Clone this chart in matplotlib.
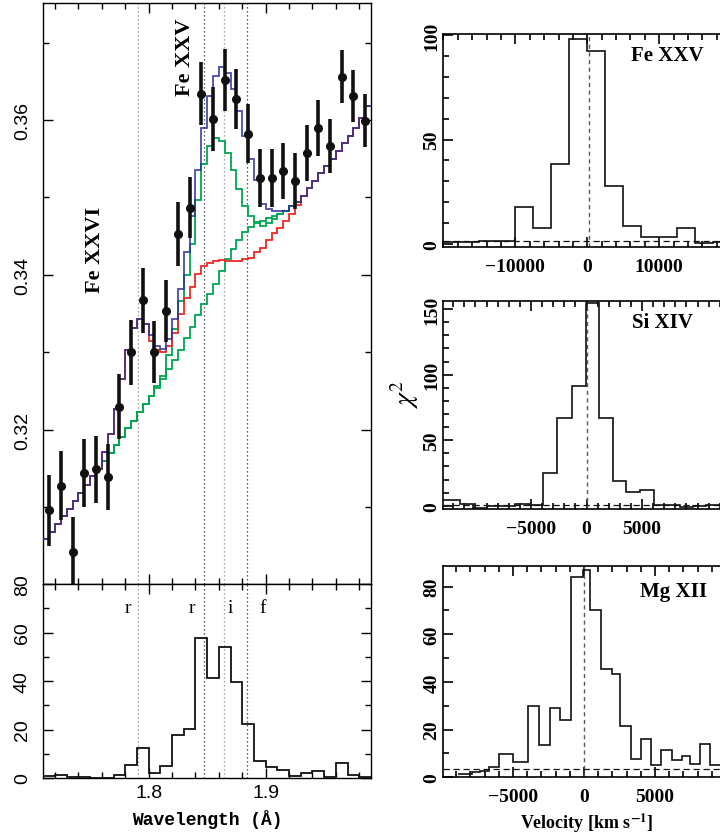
import numpy as np
import matplotlib
matplotlib.use("Agg")
import matplotlib.pyplot as plt
from matplotlib.ticker import MultipleLocator

plt.rcParams['mathtext.fontset'] = 'stix'

W, H = 720, 837

# ---- spectrum with models (top left) ----
data_wave = [1.715, 1.725, 1.735, 1.745, 1.755, 1.765, 1.775, 1.785, 1.795, 1.805,
             1.815, 1.825, 1.835, 1.845, 1.855, 1.865, 1.875, 1.885, 1.895, 1.905,
             1.915, 1.925, 1.935, 1.945, 1.955, 1.965, 1.975, 1.985]
data_flux = [0.3096, 0.3128, 0.3042, 0.3144, 0.3149, 0.3139, 0.3230, 0.3300, 0.3367, 0.3301,
             0.3354, 0.3453, 0.3487, 0.3634, 0.3601, 0.3652, 0.3627, 0.3582, 0.3525, 0.3525,
             0.3534, 0.3521, 0.3557, 0.3590, 0.3566, 0.3656, 0.3631, 0.3599]
data_err = [0.0046, 0.0045, 0.0046, 0.0044, 0.0043, 0.0043, 0.0042, 0.0042, 0.0042, 0.0040,
            0.0040, 0.0041, 0.0040, 0.0041, 0.0041, 0.0040, 0.0039, 0.0038, 0.0037, 0.0037,
            0.0036, 0.0036, 0.0036, 0.0036, 0.0035, 0.0034, 0.0034, 0.0034]

# model grid: 0.005 A bins from 1.71 to 1.99
model_edges = np.linspace(1.71, 1.99, 57)
model_total = [0.3059, 0.3068, 0.3078, 0.3089, 0.3098, 0.3108, 0.3119, 0.3129, 0.3141, 0.3150,
               0.3171, 0.3194, 0.3227, 0.3266, 0.3303, 0.3331, 0.3343, 0.3336, 0.3322, 0.3308,
               0.3305, 0.3317, 0.3343, 0.3382, 0.3429, 0.3476, 0.3536, 0.3590, 0.3631, 0.3657,
               0.3668, 0.3661, 0.3640, 0.3612, 0.3579, 0.3549, 0.3523, 0.3491, 0.3485, 0.3483,
               0.3483, 0.3483, 0.3489, 0.3494, 0.3502, 0.3512, 0.3521, 0.3531, 0.3541, 0.3550,
               0.3560, 0.3570, 0.3579, 0.3589, 0.3603, 0.3618]
model_fe26 = [0.3059, 0.3068, 0.3078, 0.3089, 0.3098, 0.3108, 0.3119, 0.3129, 0.3141, 0.3150,
              0.3171, 0.3194, 0.3227, 0.3266, 0.3303, 0.3331, 0.3343, 0.3336, 0.3315, 0.3303,
              0.3300, 0.3308, 0.3325, 0.3349, 0.3370, 0.3385, 0.3401, 0.3412, 0.3416, 0.3418,
              0.3419, 0.3418, 0.3418, 0.3418, 0.3420, 0.3422, 0.3429, 0.3435, 0.3445, 0.3454,
              0.3461, 0.3469, 0.3478, 0.3490, 0.3502, 0.3512, 0.3521, 0.3531, 0.3541, 0.3550,
              0.3560, 0.3570, 0.3579, 0.3589, 0.3603, 0.3618]
model_fe25 = [0.3059, 0.3068, 0.3078, 0.3089, 0.3098, 0.3108, 0.3119, 0.3129, 0.3141, 0.3150,
              0.3160, 0.3170, 0.3181, 0.3191, 0.3202, 0.3212, 0.3223, 0.3233, 0.3244, 0.3256,
              0.3270, 0.3296, 0.3330, 0.3366, 0.3400, 0.3440, 0.3497, 0.3543, 0.3566, 0.3577,
              0.3573, 0.3557, 0.3536, 0.3511, 0.3489, 0.3476, 0.3468, 0.3463, 0.3467, 0.3472,
              0.3478, 0.3483, 0.3489, 0.3494, 0.3502, 0.3512, 0.3521, 0.3531, 0.3541, 0.3550,
              0.3560, 0.3570, 0.3579, 0.3589, 0.3603, 0.3618]
model_cont = [0.3059, 0.3068, 0.3078, 0.3089, 0.3098, 0.3108, 0.3119, 0.3129, 0.3141, 0.3150,
              0.3160, 0.3170, 0.3181, 0.3191, 0.3202, 0.3212, 0.3223, 0.3233, 0.3244, 0.3254,
              0.3265, 0.3278, 0.3290, 0.3303, 0.3318, 0.3333, 0.3348, 0.3362, 0.3375, 0.3388,
              0.3405, 0.3420, 0.3433, 0.3445, 0.3455, 0.3462, 0.3467, 0.3470, 0.3473, 0.3476,
              0.3478, 0.3483, 0.3489, 0.3494, 0.3502, 0.3512, 0.3521, 0.3531, 0.3541, 0.3550,
              0.3560, 0.3570, 0.3579, 0.3589, 0.3603, 0.3618]

# ---- chi2 improvement per 0.01 A bin (bottom left) ----
chi_edges = np.linspace(1.71, 1.99, 29)
chi_wave = [0.7, 1.1, 0.4, 0.3, 0.1, 0.1, 1.4, 5.5, 12.2, 2.2,
            5.1, 17.6, 20.2, 57.6, 41.4, 53.9, 39.7, 22.3, 7.0, 4.7,
            3.3, 1.0, 1.9, 3.0, 0.5, 6.0, 1.4, 0.3]
line_waves = [1.7906, 1.8475, 1.864, 1.884]
line_shades = ['0.55', '0.15', '0.55', '0.15']
line_names = ['r', 'r', 'i', 'f']
name_x = [1.7823, 1.8370, 1.8695, 1.8972]

# ---- velocity scans (right) ----
fe25_edges = [-20000, -17500, -15000, -12500, -10000, -7500, -5000, -2500, 0,
              2500, 5000, 7500, 10000, 12500, 15000, 17500, 20000]
fe25_chi2 = [0.9, 0.9, 1.5, 1.5, 17.9, 7.5, 38.1, 98.1, 92.5, 27.9, 8.8, 3.5, 3.2, 7.5, 0.3, 0.8]
si14_edges = [-12900, -11400, -10200, -9000, -7800, -6450, -5100, -3900, -2650, -1350, -50,
              1150, 2400, 3600, 4800, 6050, 7200, 8400, 9600, 10800, 13000]
si14_chi2 = [4.6, 1.0, -2.0, 0.0, 0.0, 1.0, 0.5, 24.7, 66.6, 91.5, 155.0,
             66.6, 18.6, 10.2, 12.2, 0.5, 0.5, -1.0, -0.5, 0.3]
mg12_edges = [-8900, -7900, -7300, -6700, -6000, -5000, -3920, -3150, -2400, -1690, -940, -50,
              420, 1170, 1950, 2530, 3290, 4010, 4700, 5420, 6170, 6880, 7470, 8170, 8870,
              9580, 10300]
mg12_chi2 = [1.4, 2.1, 2.8, 4.4, 9.8, 6.5, 30.0, 13.4, 28.9, 24.1, 83.9, 87.1,
             70.2, 45.3, 43.5, 21.6, 7.6, 16.0, 5.0, 11.5, 7.4, 8.8, 5.7, 14.0, 5.3, 5.3]

BLUE = '#2b2f96'
RED = '#ee2a24'
GREEN = '#00a651'

fig = plt.figure(figsize=(W / 100, H / 100), dpi=100)


def px_axes(l, t, r, b):
    return fig.add_axes([l / W, 1 - b / H, (r - l) / W, (b - t) / H])


def style(ax, lw=1.0):
    for s in ax.spines.values():
        s.set_linewidth(lw)
    ax.tick_params(which='both', direction='in', top=True, right=True, width=lw)
    ax.tick_params(which='major', length=7)
    ax.tick_params(which='minor', length=4)


# top-left spectrum
ax1 = px_axes(43.3, 4, 371, 585)
style(ax1)
for x, c in zip(line_waves, line_shades):
    ax1.axvline(x, color=c, ls=(0, (1, 2.2)), lw=0.9, zorder=1)
ax1.stairs(model_cont, model_edges, baseline=None, color=GREEN, lw=1.3, zorder=2)
ax1.stairs(model_fe25, model_edges, baseline=None, color=GREEN, lw=1.3, zorder=2)
ax1.stairs(model_fe26, model_edges, baseline=None, color=RED, lw=1.3, zorder=3)
ax1.stairs(model_total, model_edges, baseline=None, color=BLUE, lw=1.3, alpha=0.85, zorder=4)
ax1.errorbar(data_wave, data_flux, yerr=data_err, fmt='o', color='#111111', ms=5.5,
             elinewidth=2.6, capsize=0, zorder=5)
ax1.set_xlim(1.71, 1.99)
ax1.set_ylim(0.3001, 0.3751)
ax1.xaxis.set_major_locator(MultipleLocator(0.1))
ax1.xaxis.set_minor_locator(MultipleLocator(0.02))
ax1.set_xticklabels([])
ax1.set_yticks([0.32, 0.34, 0.36])
ax1.set_yticklabels(['0.32', '0.34', '0.36'], rotation=90, va='center',
                    family='Liberation Sans', fontsize=14)
ax1.yaxis.set_minor_locator(MultipleLocator(0.01))
ax1.tick_params(axis='y', pad=9)
fig.text(95 / W, 1 - 250 / H, 'Fe XXVI', rotation=90, ha='center', va='center',
         family='Liberation Serif', weight='bold', fontsize=16)
fig.text(185 / W, 1 - 57 / H, 'Fe XXV', rotation=90, ha='center', va='center',
         family='Liberation Serif', weight='bold', fontsize=16)

# bottom-left chi2 per bin
ax2 = px_axes(43.3, 585, 371, 779)
style(ax2)
for x, c in zip(line_waves, line_shades):
    ax2.axvline(x, color=c, ls=(0, (1, 2.2)), lw=0.9, zorder=1)
ax2.stairs(chi_wave, chi_edges, baseline=None, color='#111111', lw=1.3, zorder=3)
for x, n in zip(name_x, line_names):
    ax2.text(x, 70.5, n, ha='center', va='center', family='Liberation Serif', fontsize=14)
ax2.set_xlim(1.71, 1.99)
ax2.set_ylim(0, 80)
ax2.set_xticks([1.8, 1.9])
ax2.set_xticklabels(['1.8', '1.9'], family='Liberation Sans', fontsize=14)
ax2.xaxis.set_minor_locator(MultipleLocator(0.02))
ax2.set_yticks([0, 20, 40, 60, 80])
ax2.set_yticklabels(['0', '20', '40', '60', '80'], rotation=90, va='center',
                    family='Liberation Sans', fontsize=14)
ax2.yaxis.set_minor_locator(MultipleLocator(10))
ax2.tick_params(axis='y', pad=9)
ax2.tick_params(axis='x', pad=4)
ax2.set_xlabel('Wavelength (Å)', family='Liberation Mono', weight='bold', fontsize=13,
               labelpad=6)

# right-hand velocity panels
panels = [
    dict(box=(443.3, 35, 731.3, 248.3), edges=fe25_edges, chi=fe25_chi2,
         xlim=(-20000, 20000), ylim=(-1.6, 100.5), vline=200, hline=1.3,
         xt=[-10000, 0, 10000], xl=['−10000', '0', '10000'], xminor=2000,
         yt=[0, 50, 100], name='Fe XXV', name_xy=(667, 56)),
    dict(box=(443.3, 301.7, 729.7, 510), edges=si14_edges, chi=si14_chi2,
         xlim=(-12900, 12900), ylim=(-2.5, 156.4), vline=50, hline=0.5,
         xt=[-5000, 0, 5000], xl=['−5000', '0', '5000'], xminor=1000,
         yt=[0, 50, 100, 150], name='Si XIV', name_xy=(663, 323)),
    dict(box=(443.3, 567.3, 731.0, 778.3), edges=mg12_edges, chi=mg12_chi2,
         xlim=(-9910, 10350), ylim=(0, 88.5), vline=0, hline=3.5,
         xt=[-5000, 0, 5000], xl=['−5000', '0', '5000'], xminor=1000,
         yt=[0, 20, 40, 60, 80], name='Mg XII', name_xy=(674, 592)),
]
rax = []
for p in panels:
    ax = px_axes(*p['box'])
    style(ax, lw=1.2)
    ax.stairs(p['chi'], p['edges'], baseline=None, color='#111111', lw=1.2, zorder=3)
    ax.axvline(p['vline'], color='0.35', ls=(0, (3, 2.5)), lw=1.0, zorder=2)
    ax.axhline(p['hline'], color='#111111', ls=(0, (5, 3)), lw=0.9, zorder=2)
    ax.set_xlim(*p['xlim'])
    ax.set_ylim(*p['ylim'])
    ax.set_xticks(p['xt'])
    ax.set_xticklabels(p['xl'], family='Liberation Serif', weight='bold', fontsize=14)
    ax.xaxis.set_minor_locator(MultipleLocator(p['xminor']))
    ax.set_yticks(p['yt'])
    ax.set_yticklabels([str(v) for v in p['yt']], rotation=90, va='center',
                       family='Liberation Serif', weight='bold', fontsize=14)
    ax.yaxis.set_minor_locator(MultipleLocator(10))
    ax.tick_params(axis='x', pad=8)
    ax.tick_params(axis='y', pad=2)
    fig.text(p['name_xy'][0] / W, 1 - p['name_xy'][1] / H, p['name'], ha='center',
             va='center', family='Liberation Serif', weight='bold', fontsize=15)
    rax.append(ax)

fig.text(405 / W, 1 - 395 / H, r'$\chi^2$', rotation=90, ha='center', va='center',
         fontsize=20)
rax[2].set_xlabel(r'Velocity [km s$^{\mathbf{-1}}$]', family='Liberation Serif',
                  weight='bold', fontsize=13, labelpad=4)

fig.savefig('out.png', dpi=100)
